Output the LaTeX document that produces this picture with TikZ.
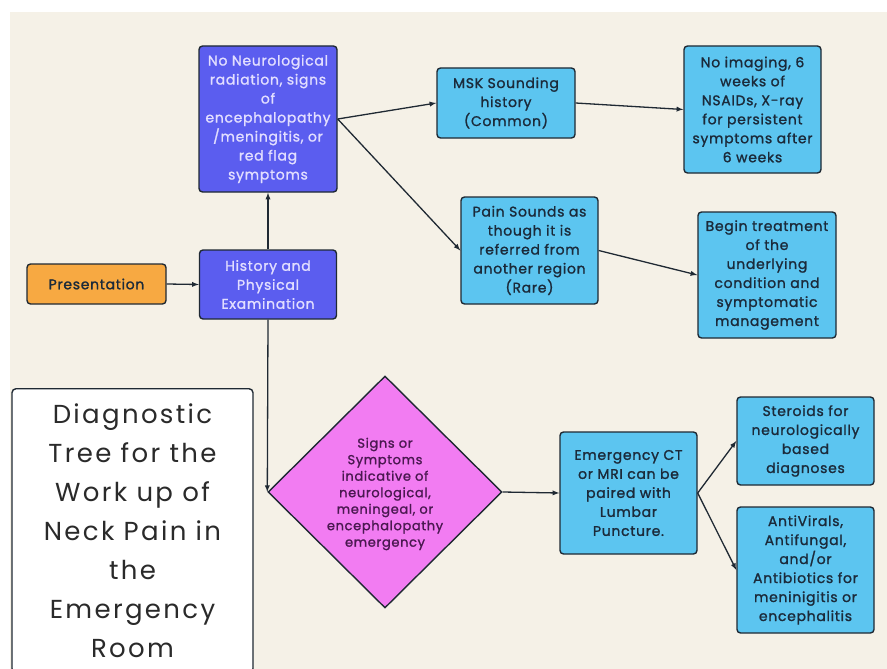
\documentclass[tikz,border=0pt]{standalone}
\usepackage{fontspec}
\setmainfont{Poppins}
\newfontfamily\boxfont{Poppins}[FakeBold=1.3, LetterSpace=5]
\newfontfamily\titlefont{Poppins}[LetterSpace=9]
\usetikzlibrary{shapes.geometric}

\definecolor{paper}{HTML}{F5F1E7}
\definecolor{edge}{HTML}{1F2933}
\definecolor{sky}{HTML}{5CC5F0}
\definecolor{iris}{HTML}{5B5DEF}
\definecolor{amber}{HTML}{F7A942}
\definecolor{orchid}{HTML}{F27CF2}
\definecolor{ink}{HTML}{1B2A3A}
\definecolor{lilac}{HTML}{E2DEFF}
\definecolor{plum}{HTML}{4A1850}
\definecolor{coal}{HTML}{2A2A2A}

\tikzset{box/.style = {draw=edge, line width=1.4, rounded corners=3.5, align=center, inner sep=2, font=\boxfont\fontsize{14}{19}\selectfont}}
\tikzset{skybox/.style = {box, fill=sky, text=ink}}
\tikzset{irisbox/.style = {box, fill=iris, text=lilac}}
\tikzset{link/.style = {->, draw=edge, line width=1.3}}

\begin{document}
\begin{tikzpicture}[x=1pt, y=-1pt, >=latex]
    \useasboundingbox (0,0) rectangle (887,669);
    \fill [paper] (10,12) rectangle (887,669);

    \node [box, fill=amber, text=ink, minimum width=139, minimum height=40] (pres) at (96.5,284) {Presentation};
    \node [irisbox, minimum width=137, minimum height=69] (hist) at (268,284.5) {History and\\Physical\\Examination};
    \node [irisbox, minimum width=138, minimum height=146] (noneuro) at (268,119) {No Neurological\\radiation, signs\\of\\encephalopathy\\/meningitis, or\\red flag\\symptoms};

    \node [skybox, minimum width=138, minimum height=70] (msk) at (506,103) {MSK Sounding\\history\\(Common)};
    \node [skybox, minimum width=137, minimum height=127] (noimg) at (752.5,109.5) {No imaging, 6\\weeks of\\NSAIDs, X-ray\\for persistent\\symptoms after\\6 weeks};
    \node [skybox, minimum width=137, minimum height=107] (pain) at (529.5,250.5) {Pain Sounds as\\though it is\\referred from\\another region\\(Rare)};
    \node [skybox, minimum width=138, minimum height=126] (treat) at (767,275) {Begin treatment\\of the\\underlying\\condition and\\symptomatic\\management};

    \node [diamond, draw=edge, line width=1.4, fill=orchid, minimum width=234, minimum height=232, inner sep=0] (signs) at (385,492) {};
    \node [align=center, text=plum, font=\boxfont\fontsize{13}{16.5}\selectfont] (signstext) at (385,494) {Signs or\\Symptoms\\indicative of\\neurological,\\meningeal, or\\encephalopathy\\emergency};

    \node [skybox, minimum width=137, minimum height=122] (ct) at (628.5,493) {Emergency CT\\or MRI can be\\paired with\\Lumbar\\Puncture.};
    \node [skybox, minimum width=137, minimum height=88] (steroid) at (805.5,441) {Steroids for\\neurologically\\based\\diagnoses};
    \node [skybox, minimum width=137, minimum height=126] (antiv) at (805.5,570) {AntiVirals,\\Antifungal,\\and/or\\Antibiotics for\\meninigitis or\\encephalitis};

    \node [draw=edge, line width=1.4, fill=white, rounded corners=4, anchor=north, minimum width=241, inner ysep=15, align=center, text=coal, font=\titlefont\fontsize{26}{39}\selectfont] (title) at (132.5,388) {Diagnostic\\Tree for the\\Work up of\\Neck Pain in\\the\\Emergency\\Room};

    \draw [link] (pres.east) -- (hist.west);
    \draw [link] (hist.north) -- (noneuro.south);
    \draw [link] (hist.south) -- (signs.west);
    \draw [link] (noneuro.east) -- (msk.west);
    \draw [link] (noneuro.east) -- (pain.west);
    \draw [link] (msk.east) -- (noimg.west);
    \draw [link] (pain.east) -- (treat.west);
    \draw [link] (signs.east) -- (ct.west);
    \draw [link] (ct.east) -- (steroid.west);
    \draw [link] (ct.east) -- (antiv.west);
\end{tikzpicture}
\end{document}
